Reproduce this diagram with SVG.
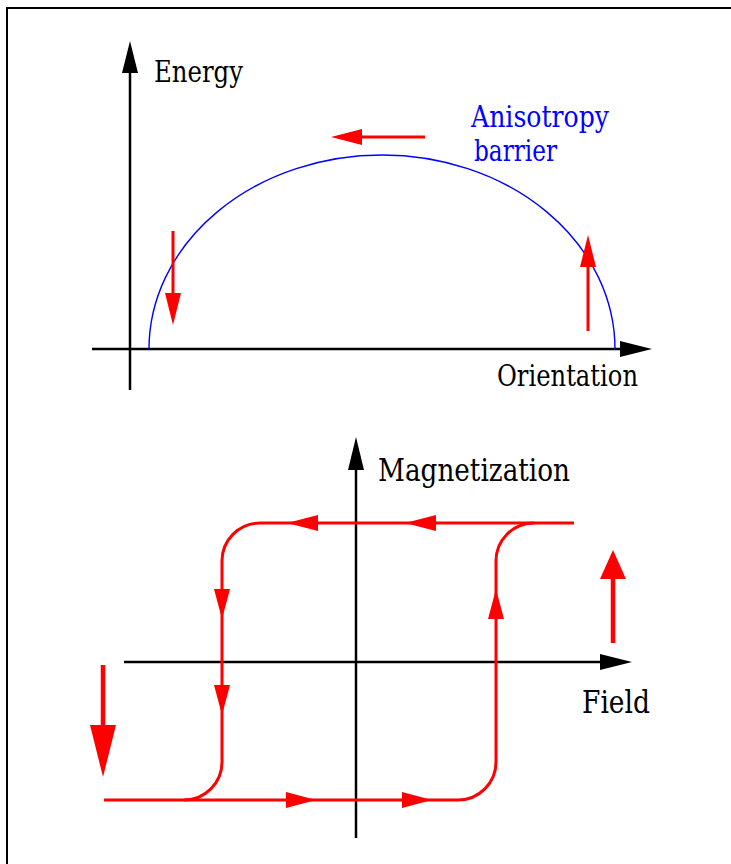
<svg xmlns="http://www.w3.org/2000/svg" width="731" height="864" viewBox="0 0 731 864">
<style>
.ax{stroke:#000;stroke-width:2.5;fill:none}
.loop{stroke:#f00;stroke-width:3;fill:none}
.ra{stroke:#f00;stroke-width:3;fill:none}
.big{stroke:#f00;stroke-width:4.5;fill:none}
.hk{fill:#000}
.hr{fill:#f00}
text{font-family:'DejaVu Serif','Liberation Serif',serif}
.t{font-size:30px;fill:#000}
.t2{font-size:32px;fill:#000}
.tb{font-size:30px;fill:#00f}
</style>
<rect width="731" height="864" fill="#fff"/>
<g id="frame">
<path d="M7,864 V8 H731" stroke="#000" stroke-width="2" fill="none"/>
</g>
<g id="energy-axis">
<line class="ax" x1="130" y1="390" x2="130" y2="70"/>
<polygon class="hk" points="130,41 122,73 138,73"/>
<text class="t" x="154" y="82" textLength="89" lengthAdjust="spacingAndGlyphs">Energy</text>
</g>
<g id="orientation-axis">
<line class="ax" x1="92" y1="349" x2="622" y2="349"/>
<polygon class="hk" points="652,349 620,341 620,357"/>
<text class="t" x="497" y="386" textLength="141" lengthAdjust="spacingAndGlyphs">Orientation</text>
</g>
<g id="barrier">
<path d="M149,349 A233,194 0 0 1 615,349" stroke="#00f" stroke-width="1.4" fill="none"/>
<text class="tb" x="471" y="127" textLength="138" lengthAdjust="spacingAndGlyphs">Anisotropy</text>
<text class="tb" x="474" y="161" textLength="83" lengthAdjust="spacingAndGlyphs">barrier</text>
</g>
<g id="small-arrows">
<line class="ra" x1="425" y1="137" x2="360" y2="137"/>
<polygon class="hr" points="331,137 362,129 362,145"/>
<line class="ra" x1="173" y1="231" x2="173" y2="296"/>
<polygon class="hr" points="173,325 165,293 181,293"/>
<line class="ra" x1="588" y1="331" x2="588" y2="264"/>
<polygon class="hr" points="588,235 580,267 596,267"/>
</g>
<g id="magnetization-axis">
<line class="ax" x1="356" y1="838" x2="356" y2="466"/>
<polygon class="hk" points="356,437 348,470 364,470"/>
<text class="t2" x="378" y="481" textLength="192" lengthAdjust="spacingAndGlyphs">Magnetization</text>
</g>
<g id="field-axis">
<line class="ax" x1="124" y1="662" x2="602" y2="662"/>
<polygon class="hk" points="632,662 600,654 600,670"/>
<text class="t2" x="582" y="713" textLength="68" lengthAdjust="spacingAndGlyphs">Field</text>
</g>
<g id="connectors">
<path class="loop" d="M574,523 H260 A38,38 0 0 0 222,561 V762 A38,38 0 0 1 184,800 H104"/>
<path class="loop" d="M184,800 H458 A38,38 0 0 0 496,762 V562 A38,38 0 0 1 534,523"/>
<polygon class="hr" points="287,523 318,515 318,531"/>
<polygon class="hr" points="405,523 436,515 436,531"/>
<polygon class="hr" points="222,619 214,589 230,589"/>
<polygon class="hr" points="222,715 214,685 230,685"/>
<polygon class="hr" points="316,800 286,792 286,808"/>
<polygon class="hr" points="432,800 402,792 402,808"/>
<polygon class="hr" points="496,589 488,619 504,619"/>
</g>
<g id="big-arrows">
<line class="big" x1="103" y1="665" x2="103" y2="730"/>
<polygon class="hr" points="103,777 90,725 116,725"/>
<line class="big" x1="613" y1="643" x2="613" y2="574"/>
<polygon class="hr" points="613,550 600,579 626,579"/>
</g>
</svg>
